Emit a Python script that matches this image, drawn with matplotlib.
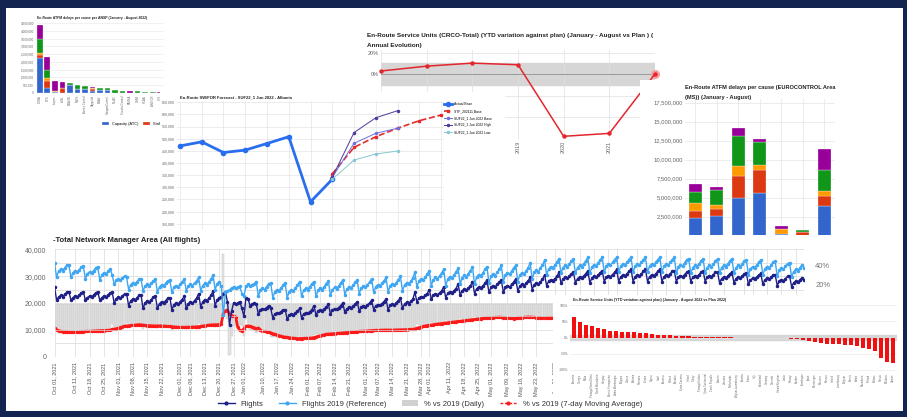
import numpy as np
import pandas as pd
import matplotlib
matplotlib.use("Agg")
import matplotlib.pyplot as plt
from matplotlib.lines import Line2D
from matplotlib.patches import Patch

plt.rcParams["font.family"] = ["Liberation Sans", "DejaVu Sans"]

# ---------------- data ----------------
cause_names = ["Capacity (ATC)", "Staffing (ATC)", "Disruptions (ATC)", "Weather", "Other"]
cause_colors = ["#3366cc", "#dc3912", "#ff9900", "#109618", "#990099"]

# panel A: delays per ANSP (thousand minutes), Jan-Aug 2022
ansp_names = ["DSNA", "DFS", "skeyes", "LVNL", "ENAIRE", "NATS", "Austro Control",
              "Skyguide", "ENAV", "HungaroControl", "MUAC", "Croatia Control", "PANSA",
              "DHMI", "HCAA", "ANS CR", "LPS"]
ansp_capacity = [2240, 350, 60, 0, 500, 230, 280, 160, 220, 170, 0, 0, 0, 0, 0, 0, 0]
ansp_staffing = [220, 400, 0, 350, 0, 0, 0, 100, 0, 0, 0, 0, 0, 0, 0, 0, 0]
ansp_disrupt = [100, 200, 100, 0, 0, 0, 0, 60, 0, 0, 0, 0, 0, 0, 0, 0, 0]
ansp_weather = [910, 500, 0, 0, 130, 310, 180, 0, 130, 130, 220, 130, 0, 100, 60, 40, 30]
ansp_other = [890, 870, 600, 350, 0, 0, 0, 90, 0, 0, 0, 0, 110, 0, 30, 20, 10]

# panel B: CRCO service units, YTD variation against plan (%)
crco_years = [2016, 2017, 2018, 2019, 2020, 2021, 2022]
crco_var = [3.0, 7.5, 10.3, 8.8, -57.5, -54.8, 0.3]

# panel C: Albania service units forecast (thousands)
alb_years = list(range(2014, 2027))
alb_actual = [470, 487, 443, 453, 480, 508, 240, 333]
stf_base = [355, 464, 508, 543, 574, 597]
suf_base = [341, 481, 522, 543]
suf_high = [341, 525, 586, 615]
suf_low = [333, 412, 437, 449]

# panel D: delays per cause, EUROCONTROL area (million minutes)
ms_years = [2016, 2017, 2018, 2019, 2020, 2021, 2022]
ms_capacity = [2.32, 2.60, 4.95, 5.57, 0.17, 0.00, 3.95]
ms_staffing = [0.87, 0.90, 2.85, 3.10, 0.00, 0.50, 1.30]
ms_disrupt = [1.10, 0.57, 1.40, 0.66, 0.70, 0.05, 0.57]
ms_weather = [1.40, 2.00, 3.95, 2.94, 0.00, 0.20, 2.85]
ms_other = [1.10, 0.40, 1.00, 0.48, 0.35, 0.00, 2.72]

# panel E: daily flights (hundreds), weeks starting Friday 01 Oct 2021
flights_rows = [
    [260, 212, 222, 228, 224, 232, 240],  # Oct 01
    [242, 210, 220, 226, 222, 230, 238],
    [242, 210, 220, 226, 222, 230, 238],
    [242, 210, 220, 226, 222, 230, 238],
    [240, 200, 216, 222, 218, 226, 234],  # Oct 29
    [235, 190, 208, 215, 210, 219, 228],
    [230, 180, 200, 208, 203, 213, 223],
    [225, 180, 198, 205, 200, 209, 218],
    [220, 175, 193, 200, 195, 204, 213],  # Nov 26
    [225, 180, 198, 205, 200, 209, 218],
    [235, 185, 205, 213, 208, 218, 228],
    [245, 190, 212, 220, 222, 235, 240],  # Dec 17
    [205, 118, 170, 200, 195, 200, 205],  # Dec 24
    [180, 150, 220, 215, 190, 195, 200],  # Dec 31
    [195, 160, 174, 179, 176, 183, 190],  # Jan 07
    [180, 145, 159, 164, 161, 168, 175],
    [175, 140, 154, 159, 156, 163, 170],
    [180, 145, 159, 164, 161, 168, 175],  # Jan 28
    [190, 155, 169, 174, 171, 178, 185],
    [195, 160, 174, 179, 176, 183, 190],
    [200, 165, 179, 184, 181, 188, 195],
    [205, 170, 184, 189, 186, 193, 200],  # Feb 25
    [210, 175, 189, 194, 191, 198, 205],
    [215, 175, 191, 197, 193, 201, 209],
    [220, 180, 196, 202, 198, 206, 214],
    [240, 205, 219, 224, 221, 228, 235],  # Mar 25
    [250, 215, 229, 234, 231, 238, 245],
    [260, 220, 236, 242, 238, 246, 254],
    [270, 230, 246, 252, 248, 256, 264],
    [280, 235, 253, 260, 255, 264, 273],  # Apr 22
    [285, 240, 258, 265, 260, 269, 278],
    [285, 240, 258, 265, 260, 269, 278],
    [290, 245, 263, 270, 265, 274, 283],
    [295, 250, 268, 275, 270, 279, 288],  # May 20
    [305, 265, 281, 287, 283, 291, 299],
    [315, 273, 290, 296, 292, 300, 309],
    [315, 275, 291, 297, 293, 301, 309],
    [320, 275, 293, 300, 295, 304, 313],  # Jun 17
    [320, 280, 296, 302, 298, 306, 314],
    [325, 280, 298, 305, 300, 309, 318],
    [325, 280, 298, 305, 300, 309, 318],
    [325, 280, 298, 305, 300, 309, 318],  # Jul 15
    [325, 280, 298, 305, 300, 309, 318],
    [320, 280, 296, 302, 298, 306, 314],
    [320, 280, 296, 302, 298, 306, 314],
    [320, 280, 296, 302, 298, 306, 314],  # Aug 12
    [315, 275, 291, 297, 293, 301, 309],
    [315, 275, 291, 297, 293, 301, 309],
    [310, 270, 286, 292, 288, 296, 304],
    [310, 270, 286, 292, 288, 296, 304],  # Sep 09
    [305, 265, 281, 287, 283, 291, 299],
    [300, 260, 276, 282, 278, 286, 294],
    [285],
]
ref2019_rows = [
    [348, 298, 318, 326, 321, 331, 341],  # Oct 01
    [340, 295, 313, 320, 315, 324, 333],
    [338, 290, 309, 316, 312, 321, 331],
    [335, 285, 305, 313, 308, 318, 328],
    [305, 270, 284, 289, 286, 293, 300],  # Oct 29
    [295, 250, 268, 275, 270, 279, 288],
    [290, 245, 263, 270, 265, 274, 283],
    [290, 240, 260, 268, 263, 273, 283],
    [285, 240, 258, 265, 260, 269, 278],  # Nov 26
    [290, 245, 263, 270, 265, 274, 283],
    [295, 245, 265, 273, 268, 278, 288],
    [305, 250, 272, 280, 262, 155, 240],  # Dec 17
    [245, 250, 255, 260, 255, 258, 262],  # Dec 24
    [235, 225, 262, 270, 262, 268, 272],  # Dec 31
    [280, 225, 247, 255, 250, 261, 272],  # Jan 07
    [275, 220, 242, 250, 245, 256, 267],
    [275, 220, 242, 250, 245, 256, 267],
    [280, 225, 247, 255, 250, 261, 272],  # Jan 28
    [280, 225, 247, 255, 250, 261, 272],
    [283, 228, 250, 258, 253, 264, 275],
    [285, 230, 252, 260, 255, 266, 277],
    [285, 235, 255, 263, 258, 268, 278],  # Feb 25
    [290, 240, 260, 268, 263, 273, 283],
    [295, 242, 263, 271, 266, 276, 287],
    [300, 245, 267, 275, 270, 281, 292],
    [315, 260, 282, 290, 285, 296, 307],  # Mar 25
    [320, 265, 287, 295, 290, 301, 312],
    [325, 265, 289, 298, 292, 304, 316],
    [330, 270, 294, 303, 297, 309, 321],
    [335, 270, 296, 306, 299, 312, 325],  # Apr 22
    [335, 275, 299, 308, 302, 314, 326],
    [340, 280, 304, 313, 307, 319, 331],
    [340, 280, 304, 313, 307, 319, 331],
    [350, 290, 314, 323, 317, 329, 341],  # May 20
    [360, 305, 327, 335, 330, 341, 352],
    [365, 310, 332, 340, 335, 346, 357],
    [365, 310, 332, 340, 335, 346, 357],
    [370, 310, 334, 343, 337, 349, 361],  # Jun 17
    [370, 315, 337, 345, 340, 351, 362],
    [370, 315, 337, 345, 340, 351, 362],
    [370, 315, 337, 345, 340, 351, 362],
    [370, 315, 337, 345, 340, 351, 362],  # Jul 15
    [370, 315, 337, 345, 340, 351, 362],
    [370, 310, 334, 343, 337, 349, 361],
    [365, 310, 332, 340, 335, 346, 357],
    [365, 310, 332, 340, 335, 346, 357],  # Aug 12
    [365, 310, 332, 340, 335, 346, 357],
    [365, 310, 332, 340, 335, 346, 357],
    [360, 305, 327, 335, 330, 341, 352],
    [360, 305, 327, 335, 330, 341, 352],  # Sep 09
    [355, 300, 322, 330, 325, 336, 347],
    [350, 295, 317, 325, 320, 331, 342],
    [330],
]
# labelled dates (the later ones sit under the inset and only keep their grid line)
nm_label_dates = ["2021-10-01", "2021-10-11", "2021-10-18", "2021-10-25", "2021-11-01",
                  "2021-11-08", "2021-11-15", "2021-11-22", "2021-12-01", "2021-12-06",
                  "2021-12-13", "2021-12-20", "2021-12-27", "2022-01-01", "2022-01-10",
                  "2022-01-17", "2022-01-24", "2022-02-01", "2022-02-07", "2022-02-14",
                  "2022-02-21", "2022-03-01", "2022-03-07", "2022-03-14", "2022-03-21",
                  "2022-03-28", "2022-04-01", "2022-04-11", "2022-04-18", "2022-04-25",
                  "2022-05-01", "2022-05-09", "2022-05-16", "2022-05-23", "2022-06-01"]
nm_grid_dates = ["2022-06-06", "2022-06-13", "2022-06-20", "2022-06-27", "2022-07-01",
                 "2022-07-11", "2022-07-18", "2022-07-25", "2022-08-01", "2022-08-08",
                 "2022-08-15", "2022-08-22", "2022-09-01", "2022-09-05", "2022-09-12",
                 "2022-09-19", "2022-09-26"]

# panel F: service units YTD variation against plan per state (%)
state_names = ["Armenia", "Georgia", "Malta", "Portugal Santa Maria", "North Macedonia",
               "Hungary", "Bosnia-Herzegovina", "Serbia-Montenegro", "Bulgaria", "Greece",
               "Albania", "Romania", "Croatia", "Cyprus", "Israel", "Slovenia", "Poland",
               "Slovakia", "Spain Canarias", "Ireland", "Turkey", "Portugal Lisboa",
               "Spain Continental", "Czech Republic", "Estonia", "Lithuania", "Netherlands",
               "Belgium-Luxembourg", "Austria", "France", "Italy", "Switzerland", "Germany",
               "Denmark", "United Kingdom", "Latvia", "Norway", "Sweden", "Azerbaijan",
               "Spain", "Montenegro", "Morocco", "Kosovo", "Iceland", "Luxembourg",
               "Belgium", "Bosnia", "Serbia", "Macedonia", "Finland", "Belarus", "Russia",
               "Moldova", "Ukraine"]
state_var = [62, 47, 37, 34, 29, 26, 20, 19, 18, 17, 16, 14, 13, 11, 9, 8, 7, 6, 5, 4,
             3, 2, 1.5, 1, 0.5, 0.3, 0.1, -0.1, -0.2, -0.3, -0.5, -1, -1.5, -2, -2.5, -3,
             -4, -6, -8, -11, -15, -18, -19, -20, -21, -22, -23, -25, -33, -35, -41, -62,
             -74, -80]

# ---------------- layout helpers ----------------
W, H = 907, 417
NAVY = "#142450"
TXT = "#666666"
TITLE = "#222222"


def box(x0, y0, x1, y1):
    return [x0 / W, 1 - y1 / H, (x1 - x0) / W, (y1 - y0) / H]


def panel(x0, y0, x1, y1, z):
    bg = fig.add_axes(box(x0, y0, x1, y1), zorder=z)
    bg.set_facecolor("white")
    bg.set_xticks([])
    bg.set_yticks([])
    for s in bg.spines.values():
        s.set_visible(False)
    return bg


def title(x, y, s, size, z):
    fig.text(x / W, 1 - y / H, s, fontsize=size, weight="bold", va="center",
             color=TITLE, zorder=z)


def clean(ax, size):
    for s in ax.spines.values():
        s.set_visible(False)
    ax.tick_params(length=0, labelsize=size, colors=TXT, pad=1.5)
    ax.set_axisbelow(True)


def stack(ax, x, series, width):
    bottom = np.zeros(len(x))
    for vals, color, name in zip(series, cause_colors, cause_names):
        vals = np.asarray(vals, dtype=float)
        ax.bar(x, vals, width, bottom=bottom, color=color, label=name,
               edgecolor="white", linewidth=0.2)
        bottom += vals


fig = plt.figure(figsize=(W / 100, H / 100), dpi=100, facecolor=NAVY)
panel(6, 8, 903, 411, 0)

# ---------------- A ----------------
ax_a = fig.add_axes(box(36, 23, 164, 93), zorder=1)
clean(ax_a, 2.2)
xa = np.arange(len(ansp_names))
stack(ax_a, xa, [np.array(s) * 1000 for s in
                 [ansp_capacity, ansp_staffing, ansp_disrupt, ansp_weather, ansp_other]], 0.75)
ax_a.set_xlim(-0.5, len(ansp_names) - 0.5)
ax_a.set_ylim(0, 4500000)
ya = np.arange(0, 4500001, 500000)
ax_a.set_yticks(ya, [f"{v:,}" for v in ya])
ax_a.set_xticks(xa, ansp_names, rotation=90, fontsize=2)
ax_a.grid(axis="y", color="#e6e6e6", lw=0.4)
title(37, 18, "En-Route ATFM delays per cause per ANSP (January - August 2022)", 2.4, 2)
ax_a.legend(loc="center left", bbox_to_anchor=(100 / W, 1 - 124 / H),
            bbox_transform=fig.transFigure, ncol=5, fontsize=2.8, frameon=False,
            handlelength=1.8, handleheight=0.7, columnspacing=1.2, borderaxespad=0)

# ---------------- B ----------------
panel(363, 25, 660, 172, 5)
ax_b = fig.add_axes(box(381, 50.5, 655, 139), zorder=6)
clean(ax_b, 4)
ax_b.axhspan(-10, 10, color="#d6d6d6", zorder=0)
ax_b.axhline(0, color="#9a9a9a", lw=0.7, zorder=1)
ax_b.plot(crco_years[-1], crco_var[-1], "o", ms=5.5, color="#f5a0a0", clip_on=False, zorder=2)
ax_b.plot(crco_years, crco_var, color="#e3262d", lw=1.1, marker="o", ms=2.2,
          clip_on=False, zorder=3)
ax_b.set_xlim(2016, 2022)
ax_b.set_ylim(-60, 22)
ax_b.set_yticks([0, 20], ["0%", "20%"])
ax_b.set_yticks([-60, -40, -20], minor=True)
ax_b.set_xticks(crco_years, [str(y) if 2019 <= y <= 2021 else "" for y in crco_years],
                rotation=90)
ax_b.tick_params(which="minor", length=0)
ax_b.grid(which="both", color="#e0e0e0", lw=0.5)
title(367, 36, "En-Route Service Units (CRCO-Total) (YTD variation against plan) "
      "(January - August vs Plan ) (", 4.6, 7)
title(367, 45, "Annual Evolution)", 4.6, 7)

# ---------------- C ----------------
panel(160, 92, 505, 235, 10)
ax_c = fig.add_axes(box(176.7, 101, 444.3, 229.8), zorder=11)
clean(ax_c, 2.6)
ax_c.plot(alb_years[:len(alb_actual)], np.array(alb_actual) * 1000, color="#2a6ef0",
          lw=2.0, marker="o", ms=3, label="Actual Base")
ax_c.plot(alb_years[7:7 + len(stf_base)], np.array(stf_base) * 1000, color="#e52b2b",
          lw=1.2, ls="--", marker="s", ms=1.8, label="STF_202111 Base")
ax_c.plot(alb_years[7:7 + len(suf_base)], np.array(suf_base) * 1000, color="#6e6ee0",
          lw=0.7, marker="o", ms=1.5, label="SUF22_1 Jun 2022 Base")
ax_c.plot(alb_years[7:7 + len(suf_high)], np.array(suf_high) * 1000, color="#4a3c9e",
          lw=0.7, marker="o", ms=1.5, label="SUF22_1 Jun 2022 High")
ax_c.plot(alb_years[7:7 + len(suf_low)], np.array(suf_low) * 1000, color="#86c9d2",
          lw=0.7, marker="o", ms=1.5, label="SUF22_1 Jun 2022 Low")
ax_c.set_xlim(2013.85, 2026.15)
ax_c.set_ylim(125000, 655000)
yc = np.arange(150000, 650001, 50000)
ax_c.set_yticks(yc, [f"{v:,}" for v in yc])
ax_c.set_xticks(alb_years, [])
ax_c.grid(color="#e4e4e4", lw=0.5)
title(180, 97, "En-Route SW/FOR Forecast - SUF22_1 Jun 2022 - Albania", 2.95, 12)
ax_c.legend(loc="upper left", bbox_to_anchor=(443 / W, 1 - 101 / H),
            bbox_transform=fig.transFigure, fontsize=2.4, frameon=False,
            handlelength=2.2, labelspacing=0.9, borderaxespad=0)

# ---------------- D ----------------
panel(640, 80, 903, 240, 15)
ax_d = fig.add_axes(box(684.5, 98.9, 835, 235.7), zorder=16)
clean(ax_d, 4.2)
xd = np.arange(len(ms_years))
stack(ax_d, xd, [np.array(s) * 1e6 for s in
                 [ms_capacity, ms_staffing, ms_disrupt, ms_weather, ms_other]], 0.6)
ax_d.set_xlim(-0.5, len(ms_years) - 0.5)
ax_d.set_ylim(0, 18000000)
yd = np.arange(2500000, 17500001, 2500000)
ax_d.set_yticks(yd, [f"{v:,}" for v in yd])
ax_d.set_xticks(xd, [])
ax_d.grid(color="#e4e4e4", lw=0.5)
title(685, 88, "En-Route ATFM delays per cause (EUROCONTROL Area", 4.1, 17)
title(685, 97, "(MS)) (January - August)", 4.1, 17)

# ---------------- E ----------------
panel(6, 235, 903, 411, 20)
days = pd.date_range("2021-10-01", periods=365, freq="D")
flights = pd.Series(np.concatenate(flights_rows) * 100.0, index=days)
ref2019 = pd.Series(np.concatenate(ref2019_rows) * 100.0, index=days)
pct_daily = (flights / ref2019 - 1) * 100
pct_ma = pct_daily.rolling(7, min_periods=1).mean()

ax_p = fig.add_axes(box(54.5, 249.3, 804, 356.7), zorder=21)
clean(ax_p, 5.5)
ax_p.bar(days, pct_daily.values, width=1.0, color="#e3e3e3", edgecolor="#c2c2c2",
         linewidth=0.3)
ax_p.plot(days, pct_ma.values, color="#ff1a1a", lw=2.0, marker="o", ms=1.4)
ax_p.set_ylim(-55, 56.3)
ax_p.yaxis.tick_right()
ax_p.set_yticks([20, 40], ["20%", "40%"])
ax_p.tick_params(axis="y", pad=8, colors="#777777")
ax_p.set_xticks([])
ax_p.set_xlim(days[0], days[-1])

ax_e = fig.add_axes(box(54.5, 249.3, 804, 356.7), zorder=22)
ax_e.patch.set_visible(False)
clean(ax_e, 5)
ax_e.plot(days, flights.values, color="#1f1f88", lw=1.0, marker="o", ms=1.5)
ax_e.plot(days, ref2019.values, color="#3ea6f2", lw=1.0, marker="o", ms=1.5)
ax_e.set_xlim(days[0], days[-1])
ax_e.set_ylim(0, 40000)
ye = np.arange(0, 40001, 10000)
ax_e.set_yticks(ye, [f"{v:,}" for v in ye])
ax_e.set_yticks(np.arange(5000, 40000, 10000), minor=True)
ticks = pd.to_datetime(nm_label_dates)
ax_e.set_xticks(ticks, [t.strftime("%b %d, %Y") for t in ticks], rotation=90, fontsize=4)
ax_e.set_xticks(pd.to_datetime(nm_grid_dates), minor=True)
ax_e.tick_params(axis="x", pad=4, colors="#555555")
ax_e.tick_params(axis="y", pad=6)
ax_e.tick_params(which="minor", length=0)
ax_e.grid(which="both", color="#d9d9d9", lw=0.5)
ax_e.axhline(0, color="#999999", lw=0.6)
title(53, 241, "-Total Network Manager Area (All flights)", 5.5, 23)
handles = [
    Line2D([], [], color="#1f1f88", lw=1.0, marker="o", ms=2),
    Line2D([], [], color="#3ea6f2", lw=1.0, marker="o", ms=2),
    Patch(facecolor="#d0d0d0", edgecolor="none"),
    Line2D([], [], color="#ff1a1a", lw=1.0, ls=(0, (2, 1.2)), marker="o", ms=2),
]
labels = ["Flights", "Flights 2019 (Reference)", "% vs 2019 (Daily)",
          "% vs 2019 (7-day Moving Average)"]
ax_e.legend(handles, labels, loc="center", bbox_to_anchor=(430 / W, 1 - 404 / H),
            bbox_transform=fig.transFigure, ncol=4, fontsize=5.5, frameon=False,
            handlelength=2.2, columnspacing=2.0, borderaxespad=0, labelcolor="#333333")

# ---------------- F ----------------
panel(553, 295, 903, 398, 30)
ax_f = fig.add_axes(box(570.4, 303.4, 896.6, 371.6), zorder=31)
clean(ax_f, 2.3)
xf = np.arange(len(state_names))
ax_f.axhspan(-8, 8, color="#d6d6d6", zorder=0)
ax_f.bar(xf, state_var, 0.72, color="#f01010")
ax_f.set_xlim(-0.6, len(state_names) - 0.4)
ax_f.set_ylim(-105, 105)
ax_f.set_yticks([-100, -50, 0, 50, 100], ["-100%", "-50%", "0%", "50%", "100%"])
ax_f.set_xticks(xf, state_names, rotation=90, fontsize=1.8)
ax_f.grid(axis="y", color="#e6e6e6", lw=0.4)
title(573, 300, "En-Route Service Units (YTD variation against plan) "
      "(January - August 2022 vs Plan 2022)", 2.6, 32)

fig.savefig("out.png", dpi=100, facecolor=NAVY)
